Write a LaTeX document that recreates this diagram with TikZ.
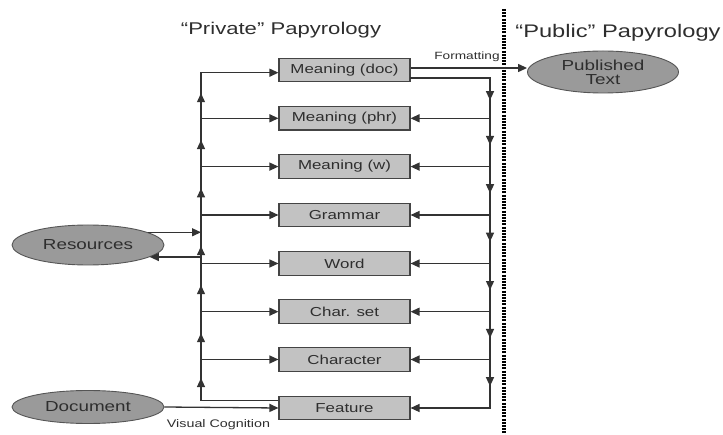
\documentclass[tikz,border=0pt]{standalone}
\usepackage{fontspec}
\setmainfont{Liberation Sans}[FakeStretch=1.3]
\usetikzlibrary{arrows.meta,decorations.markings,shapes.geometric}
\definecolor{boxfill}{HTML}{C2C2C2}
\definecolor{boxline}{HTML}{444444}
\definecolor{ovalfill}{HTML}{9A9A9A}
\definecolor{ovalline}{HTML}{555555}
\definecolor{lnc}{HTML}{333333}
\definecolor{txt}{HTML}{2E2E2E}
\begin{document}
\begin{tikzpicture}[x=1pt,y=-1pt,
  box/.style={draw=boxline, line width=1.1pt, fill=boxfill, minimum width=131pt, minimum height=23.5pt, inner sep=0pt, text=txt, font=\fontsize{13}{15}\selectfont},
  oval/.style={ellipse, draw=ovalline, line width=0.9pt, fill=ovalfill, minimum width=152pt, minimum height=40pt, inner sep=0pt, text=txt, font=\fontsize{14.5}{16}\selectfont, align=center},
  ttl/.style={text=txt, font=\fontsize{17}{19}\selectfont, inner sep=0pt},
  lbl/.style={text=txt, font=\fontsize{10.5}{12}\selectfont, inner sep=0pt},
  ln/.style={draw=lnc, line width=1.3pt},
  tip/.tip={Triangle[length=9pt,width=8pt]},
  arr/.style={ln, -tip},
  bus/.style={ln, line cap=rect},
  midarr/.style={bus, postaction={decorate}, decoration={markings, mark=at position 0.55 with {\arrow{tip}}}}
]
\useasboundingbox (0,0) rectangle (723,435);

% titles
\node[ttl] (tpriv) at (281,30) {“Private” Papyrology};
\node[ttl, font=\fontsize{18.2}{20}\selectfont] (tpub) at (618,33) {“Public” Papyrology};

% divider
\coordinate (dtop) at (504,9);
\coordinate (dbot) at (504,435);
\draw[black, line width=4.5pt, dash pattern=on 2pt off 1.2pt] (dtop) -- (dbot);

% boxes
\node[box] (doc)  at (344.5,70)    {Meaning (doc)};
\node[box] (phr)  at (344.5,118.3) {Meaning (phr)};
\node[box] (mw)   at (344.5,166.6) {Meaning (w)};
\node[box] (gram) at (344.5,215)   {Grammar};
\node[box] (word) at (344.5,263.5) {Word};
\node[box] (cset) at (344.5,311.7) {Char. set};
\node[box] (char) at (344.5,359.5) {Character};
\node[box] (feat) at (344.5,408)   {Feature};

% ovals
\node[oval] (res) at (88,245) {Resources};
\node[oval, minimum height=33pt] (dcm) at (88,407) {Document};
\node[oval, minimum width=151pt, minimum height=42pt] (pub) at (603,72) {Published\\[-2pt]Text};

% bus x positions
\coordinate (Lx) at (201,0);
\coordinate (Rx) at (490,0);

% left bus
\coordinate (L0) at (201,72.7);
\coordinate (fw) at ([yshift=7.3pt]feat.west);
\coordinate (Lf) at (fw -| Lx);
\coordinate (Lin) at (201,232);
\coordinate (Lout) at (201,257);
\draw[ln] (fw) -- (Lf);
\draw[midarr] (Lf) -- (char.west -| Lx);
\draw[midarr] (char.west -| Lx) -- (cset.west -| Lx);
\draw[midarr] (cset.west -| Lx) -- (word.west -| Lx);
\draw[midarr] (word.west -| Lx) -- (Lin);
\draw[bus] (Lin) -- (gram.west -| Lx);
\draw[midarr] (gram.west -| Lx) -- (mw.west -| Lx);
\draw[midarr] (mw.west -| Lx) -- (phr.west -| Lx);
\draw[midarr] (phr.west -| Lx) -- (L0);
\draw[arr] (L0) -- (L0 -| doc.west);
\foreach \b in {phr,mw,gram,word,cset,char}{
  \draw[arr] (\b.west -| Lx) -- (\b.west);
}

% resources links
\draw[arr] (res.12) -- (res.12 -| Lin);
\draw[arr] (Lout) -- (Lout -| res.-11);

% document link
\draw[arr] (dcm.east) -- (feat.west);
\node[lbl, font=\fontsize{11}{13}\selectfont] (vc) at (218.5,425) {Visual Cognition};

% right bus
\coordinate (dr) at ([yshift=-8pt]doc.east);
\draw[bus] (dr) -- (dr -| Rx);
\draw[midarr] (dr -| Rx) -- (phr.east -| Rx);
\draw[midarr] (phr.east -| Rx) -- (mw.east -| Rx);
\draw[midarr] (mw.east -| Rx) -- (gram.east -| Rx);
\draw[midarr] (gram.east -| Rx) -- (word.east -| Rx);
\draw[midarr] (word.east -| Rx) -- (cset.east -| Rx);
\draw[midarr] (cset.east -| Rx) -- (char.east -| Rx);
\draw[midarr] (char.east -| Rx) -- (feat.east -| Rx);
\foreach \b in {phr,mw,gram,word,cset,char,feat}{
  \draw[arr] (\b.east -| Rx) -- (\b.east);
}

% formatting
\coordinate (df) at ([yshift=2pt]doc.east);
\draw[arr] (df) -- (df -| pub.west);
\node[lbl] (fmt) at (467,57) {Formatting};
\end{tikzpicture}
\end{document}
